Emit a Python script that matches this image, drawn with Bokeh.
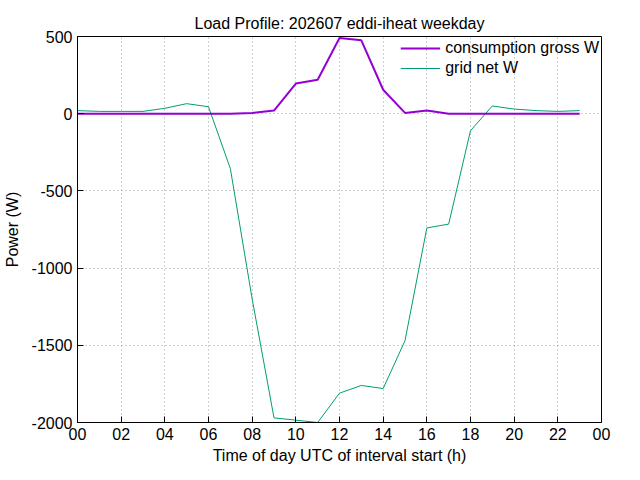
from bokeh.plotting import figure
from bokeh.models import FixedTicker, Legend, LegendItem, Range1d
from bokeh.embed import file_html
from bokeh.resources import INLINE

hours = list(range(24))
consumption = [0, 0, 0, 0, 0, 0, 0, 0, 5, 20, 195, 220, 490, 475, 155, 5, 20, 0, 0, 0, 0, 0, 0, 0]
grid_net = [20, 15, 15, 15, 35, 65, 45, -355, -1200, -1970, -1985, -2000, -1810, -1760, -1780,
            -1470, -740, -715, -110, 50, 30, 20, 15, 20]
xticks = list(range(0, 25, 2))
xlabels = {t: "%02d" % (t % 24) for t in xticks}
yticks = [-2000, -1500, -1000, -500, 0, 500]
ylabels = {t: str(t) for t in yticks}

p = figure(frame_width=524, frame_height=386, output_backend="svg", toolbar_location=None,
           x_range=Range1d(0, 24), y_range=Range1d(-2000, 500),
           min_border_left=74, min_border_right=26, min_border_top=36, min_border_bottom=42,
           title="Load Profile: 202607 eddi-iheat weekday")
p.title.align = "center"
p.title.text_font = "Liberation Sans"
p.title.text_font_size = "12pt"
p.title.text_font_style = "normal"
p.title.text_color = "black"

f_green = p.line(hours, grid_net, line_color="#009e73", line_width=1)
f_purple = p.line(hours, consumption, line_color="#9400d3", line_width=2)

p.xaxis.ticker = FixedTicker(ticks=xticks)
p.xaxis.major_label_overrides = xlabels
p.yaxis.ticker = FixedTicker(ticks=yticks)
p.yaxis.major_label_overrides = ylabels
p.xaxis.axis_label = "Time of day UTC of interval start (h)"
p.yaxis.axis_label = "Power (W)"
for ax in (p.xaxis, p.yaxis):
    ax.axis_label_text_font = "Liberation Sans"
    ax.axis_label_text_font_style = "normal"
    ax.axis_label_text_font_size = "12pt"
    ax.axis_label_text_color = "black"
    ax.major_label_text_font = "Liberation Sans"
    ax.major_label_text_font_size = "12pt"
    ax.major_label_text_color = "black"
    ax.minor_tick_line_color = None
    ax.major_tick_in = 6
    ax.major_tick_out = 0
    ax.axis_line_color = "black"
    ax.major_tick_line_color = "black"
p.yaxis.major_label_orientation = "horizontal"
p.yaxis.axis_label_standoff = 8
p.xaxis.axis_label_standoff = 4

p.grid.grid_line_color = "#a0a0a0"
p.grid.grid_line_dash = "1 3"
p.outline_line_color = "black"
p.outline_line_width = 1
p.background_fill_color = "white"
p.border_fill_color = "white"

legend = Legend(items=[LegendItem(label="consumption gross W", renderers=[f_purple]),
                       LegendItem(label="grid net W", renderers=[f_green])],
                location="top_right", background_fill_alpha=0, border_line_color=None,
                label_text_font="Liberation Sans", label_text_font_size="12pt",
                label_text_color="black",
                glyph_width=40, spacing=-6, margin=2, padding=2)
p.add_layout(legend)

open("out.html", "w").write(file_html(p, INLINE))
